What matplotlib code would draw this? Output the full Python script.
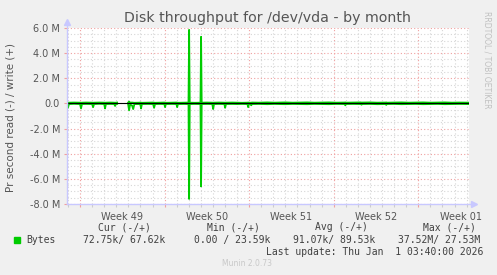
import numpy as np
import matplotlib
matplotlib.use("Agg")
import matplotlib.pyplot as plt
from matplotlib.ticker import MultipleLocator, FuncFormatter

W, H = 497, 275

# time in days since Mon 1 Dec 2025, values in millions of bytes/s
days = [-1.08, -1.0, -0.92, -0.5, 0.0, 0.08, 0.16, 0.5, 1.0, 1.08, 1.16, 1.6,
        2.0, 2.07, 2.14, 2.5, 2.83, 2.9, 2.97, 3.07, 3.5, 3.98, 4.06, 4.14,
        4.3, 4.4, 4.5, 4.9, 5.0, 5.05, 5.12, 5.6, 6.05, 6.13, 6.21, 6.6,
        6.98, 7.04, 7.1, 7.6, 7.98, 8.04, 8.1, 8.6, 8.98, 9.03, 9.08, 9.5,
        9.97, 10.02, 10.07, 10.5, 10.95, 11.02, 11.09, 11.5, 11.95, 12.01,
        12.08, 12.6, 13.0, 13.4, 13.86, 13.92, 13.98, 14.1, 14.17, 14.24,
        14.8, 15.5, 16.1, 16.5, 17.0, 17.6, 18.2, 18.8, 19.4, 20.0, 20.6,
        21.2, 21.9, 21.96, 22.02, 22.6, 23.25, 23.3, 23.36, 24.0, 24.6,
        25.3, 25.35, 25.4, 26.0, 26.6, 27.2, 27.8, 28.4, 29.0, 29.6, 30.2,
        30.8, 31.4, 32.2]

read_vals = [-0.05, -0.35, -0.05, -0.03, -0.05, -0.4, -0.05, -0.04, -0.05, -0.3, -0.05, -0.03,
             -0.05, -0.4, -0.05, -0.04, -0.05, -0.2, -0.05, -0.04, np.nan, -0.05, -0.55, -0.1,
             -0.15, -0.45, -0.05, -0.05, -0.1, -0.4, -0.05, -0.04, -0.05, -0.35, -0.05, -0.04,
             -0.05, -0.3, -0.05, -0.04, -0.05, -0.3, -0.05, -0.04, -0.05, -7.6, -0.05, -0.04,
             -0.05, -6.6, -0.05, -0.04, -0.05, -0.45, -0.05, -0.04, -0.05, -0.35,
             -0.05, -0.04, -0.05, -0.04, -0.05, -0.3, -0.05, -0.05, -0.15, -0.05,
             -0.04, -0.06, -0.04, -0.05, -0.06, -0.04, -0.05, -0.06, -0.04, -0.05, -0.06,
             -0.04, -0.05, -0.15, -0.05, -0.04, -0.05, -0.1, -0.05, -0.04, -0.06,
             -0.05, -0.12, -0.05, -0.04, -0.06, -0.05, -0.04, -0.06, -0.05, -0.04, -0.06,
             -0.05, -0.04, -0.05]

write_vals = [0.06, 0.05, 0.06, 0.07, 0.06, 0.05, 0.06, 0.07, 0.06, 0.05, 0.06, 0.07,
              0.06, 0.05, 0.06, 0.07, 0.06, 0.05, 0.06, 0.07, np.nan, 0.06, 0.15, 0.06,
              0.07, 0.06, 0.05, 0.06, 0.07, 0.06, 0.05, 0.06, 0.07, 0.06, 0.05, 0.06,
              0.07, 0.06, 0.05, 0.06, 0.07, 0.06, 0.05, 0.06, 0.07, 5.85, 0.06, 0.05,
              0.06, 5.3, 0.06, 0.07, 0.06, 0.05, 0.06, 0.07, 0.06, 0.05,
              0.06, 0.07, 0.06, 0.05, 0.06, 0.07, 0.06, 0.05, 0.06, 0.07,
              0.06, 0.08, 0.06, 0.07, 0.08, 0.06, 0.07, 0.08, 0.06, 0.07, 0.08,
              0.06, 0.07, 0.08, 0.06, 0.07, 0.08, 0.06, 0.07, 0.08, 0.06,
              0.07, 0.08, 0.06, 0.07, 0.08, 0.06, 0.07, 0.08, 0.06, 0.07, 0.08,
              0.06, 0.07, 0.06]

week_starts = [0, 7, 14, 21, 28]
week_labels = ["Week 49", "Week 50", "Week 51", "Week 52", "Week 01"]

headers = ["Cur (-/+)", "Min (-/+)", "Avg (-/+)", "Max (-/+)"]
stats = ["72.75k/ 67.62k", "0.00 / 23.59k", "91.07k/ 89.53k", "37.52M/ 27.53M"]

BG = "#F0F0F0"
TXT = "#555555"
GREEN = "#00CC00"
AXC = "#C8C8FF"

fig = plt.figure(figsize=(W / 100, H / 100), dpi=100, facecolor=BG)
ax = fig.add_axes([67 / W, 1 - 204 / H, 402 / W, 176 / H])
ax.set_facecolor("white")

ax.set_xlim(-1.08, 32.2)
ax.set_ylim(-8, 6)

ax.xaxis.set_minor_locator(MultipleLocator(1))
ax.set_xticks(week_starts)
ax.set_xticklabels([])
ax.yaxis.set_major_locator(MultipleLocator(2))
ax.yaxis.set_minor_locator(MultipleLocator(0.5))
ax.yaxis.set_major_formatter(FuncFormatter(lambda v, p: "0.0" if abs(v) < 1e-9 else "%.1f M" % v))

ax.grid(which="minor", color="#D6D6D6", linestyle=(0, (1, 2)), linewidth=0.8)
ax.grid(which="major", color="#F0A0A0", linestyle=(0, (1, 2)), linewidth=0.8)
ax.set_axisbelow(True)

ax.tick_params(axis="both", which="both", length=2, width=0.8, labelsize=7, labelcolor=TXT, pad=3)
ax.tick_params(axis="x", which="major", color="#F0A0A0")
ax.tick_params(axis="x", which="minor", color="#CCCCCC")
ax.tick_params(axis="y", which="major", color="#F0A0A0")
ax.tick_params(axis="y", which="minor", color="#CCCCCC", length=0)

for s in ["top", "right", "left", "bottom"]:
    ax.spines[s].set_visible(False)

# axes with arrows like rrdtool
ax.plot([0, 0], [0, 1.035], transform=ax.transAxes, color=AXC, lw=1, clip_on=False, zorder=5)
ax.plot([0], [1.035], marker="^", ms=4, color=AXC, transform=ax.transAxes, clip_on=False, zorder=5)
ax.plot([0, 1.01], [0, 0], transform=ax.transAxes, color=AXC, lw=1, clip_on=False, zorder=5)
ax.plot([1.012], [0], marker=">", ms=4, color=AXC, transform=ax.transAxes, clip_on=False, zorder=5)

ax.plot(days, read_vals, color=GREEN, lw=1.3, zorder=3)
ax.plot(days, write_vals, color=GREEN, lw=1.3, zorder=3)
ax.axhline(0, color="black", lw=0.8, zorder=4)

for d, lab in zip(week_starts, week_labels):
    ax.text(d + 3.5, -0.045, lab, transform=ax.get_xaxis_transform(),
            ha="center", va="top", fontsize=7, color=TXT)

fig.text(268 / W, 1 - 18 / H, "Disk throughput for /dev/vda - by month",
         ha="center", va="center", fontsize=10.2, color=TXT)
fig.text(11 / W, 1 - 117 / H, "Pr second read (-) / write (+)", rotation=90,
         ha="center", va="center", fontsize=7.5, color=TXT)
fig.text(487 / W, 1 - 60 / H, "RRDTOOL / TOBI OETIKER", rotation=270,
         ha="center", va="center", fontsize=5.5, color="#C0C0C0")

# legend block
mono = "DejaVu Sans Mono"
LT = "#404040"
for x, t in zip([98, 207, 315, 423], headers):
    fig.text(x / W, 1 - 227 / H, t, family=mono, fontsize=7, color=LT, va="center")
fig.patches.append(plt.Rectangle((14 / W, 1 - 243 / H), 6 / W, 6 / H,
                                 transform=fig.transFigure, color=GREEN, figure=fig))
fig.text(26 / W, 1 - 240 / H, "Bytes", family=mono, fontsize=7, color=LT, va="center")
for x, t in zip([83, 194, 293, 398], stats):
    fig.text(x / W, 1 - 240 / H, t, family=mono, fontsize=7, color=LT, va="center")
fig.text(483 / W, 1 - 252 / H, "Last update: Thu Jan  1 03:40:00 2026", family=mono,
         fontsize=7, color=LT, va="center", ha="right")
fig.text(247 / W, 1 - 264 / H, "Munin 2.0.73", fontsize=5.5, color="#C8C8C8",
         ha="center", va="center")

fig.savefig("out.png", dpi=100, facecolor=BG)
